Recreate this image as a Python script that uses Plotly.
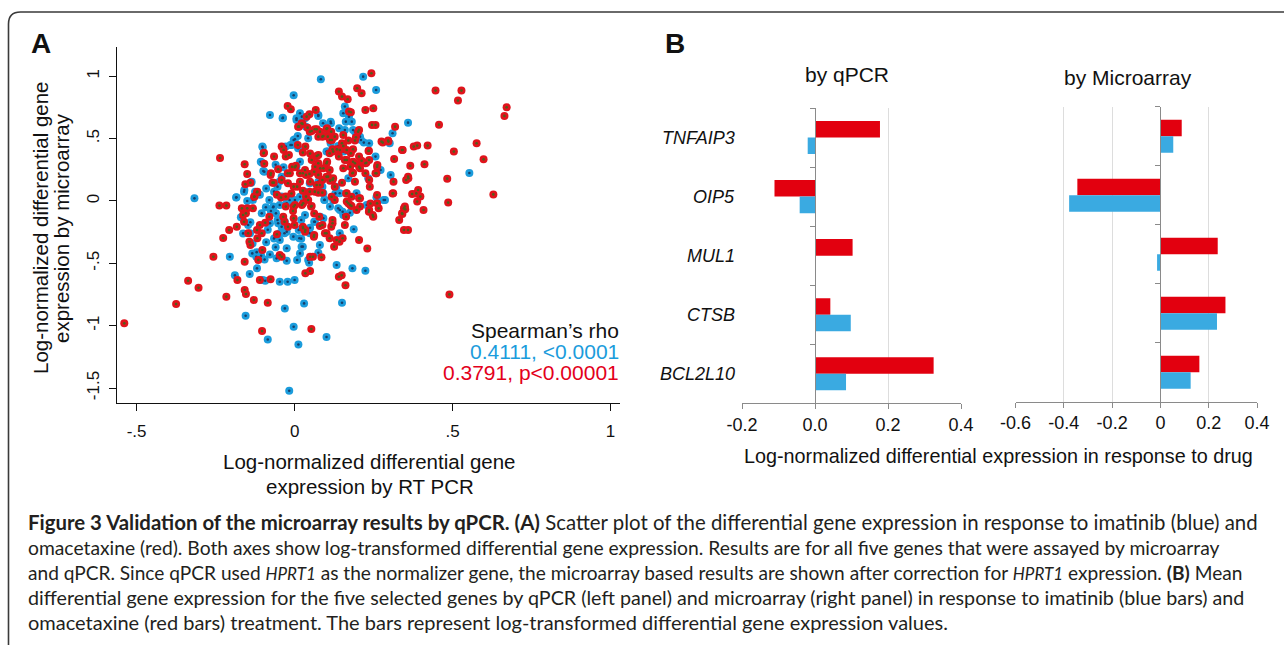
import plotly.graph_objects as go

W, H = 1284, 645

# ---------------- Panel A data (log-normalized differential expression) ----------------
red_x = [0.686, -0.539, -0.375, -0.337, -0.304, -0.257, -0.236, -0.238, -0.216, -0.226,
         -0.207, -0.183, -0.216, -0.181, -0.158, -0.150, -0.156, -0.140, -0.119, -0.127,
         -0.167, -0.150, -0.132, -0.154, -0.160, -0.147, -0.143, -0.140, -0.118, -0.119,
         -0.102, -0.158, -0.158, -0.154, -0.129, -0.085, -0.115, -0.110, -0.076, -0.103,
         -0.098, -0.096, -0.075, -0.070, -0.056, -0.043, -0.065, -0.041, -0.035, -0.022,
         -0.012, -0.028, -0.018, -0.022, -0.021, -0.008, 0.004, 0.017, 0.026, 0.010,
         0.026, 0.034, -0.003, 0.008, 0.026, 0.036, 0.043, -0.003, 0.023, 0.052,
         -0.036, -0.032, -0.003, 0.000, 0.026, 0.034, -0.056, -0.047, -0.041, -0.005,
         0.049, 0.047, 0.062, 0.065, 0.075, 0.041, 0.054, 0.070, 0.014, 0.025,
         0.047, 0.067, 0.075, 0.088, 0.101, 0.101, 0.111, 0.081, 0.070, 0.088,
         0.075, 0.101, 0.075, 0.088, 0.111, 0.120, 0.134, 0.105, 0.118, 0.127,
         0.140, 0.150, 0.168, 0.172, 0.178, 0.150, 0.165, 0.178, 0.140, 0.159,
         0.176, 0.120, 0.127, 0.150, 0.163, 0.165, 0.176, 0.194, 0.204, 0.204,
         0.191, 0.183, 0.204, 0.224, 0.198, 0.212, 0.243, 0.224, 0.249, 0.245,
         0.256, 0.234, 0.224, 0.236, 0.204, 0.207, 0.236, 0.249, 0.266, 0.256,
         0.262, 0.279, 0.297, 0.315, 0.313, 0.318, 0.340, 0.359, 0.353, 0.366,
         0.377, 0.388, 0.421, 0.411, 0.310, 0.372, 0.385, 0.391, 0.398, 0.388,
         0.408, 0.346, 0.340, 0.331, 0.346, 0.359, 0.446, 0.457, 0.504, 0.517,
         0.528, 0.576, 0.598, 0.483, 0.486, 0.629, 0.664, 0.671, 0.490, 0.133,
         0.142, 0.152, 0.163, 0.159, 0.204, 0.230, 0.140, 0.149, 0.161, 0.049,
         0.058, 0.085, 0.053, 0.034, 0.049, 0.116, 0.101, 0.088, 0.111, 0.125,
         0.062, -0.028, -0.010, 0.017, 0.049, -0.041, -0.028, 0.062, -0.080, -0.093,
         -0.021, -0.110, -0.104, -0.163, 0.096, 0.080, 0.078, 0.120, 0.120, 0.196,
         0.235, 0.247, 0.240, 0.341, 0.350, 0.061, 0.033, 0.027, 0.001, 0.027,
         0.054, 0.170, 0.180, 0.048, 0.064, 0.080, 0.103, 0.116, 0.091, 0.112,
         0.154, 0.170, 0.191, 0.201, 0.154, 0.143, 0.122, 0.185, 0.235, 0.275,
         0.296, 0.342, 0.236, 0.227, 0.212, 0.185, 0.165, 0.261, 0.259, 0.207,
         0.185, 0.191, 0.154, 0.103, 0.091, 0.106, 0.122, 0.112, 0.075, 0.054,
         0.033, 0.036, 0.001, -0.015, 0.070, 0.080, 0.048, 0.064, 0.117, 0.127,
         0.165, 0.180, 0.207, 0.238, 0.261, 0.261, 0.312, 0.349, 0.360, 0.022,
         0.011, 0.038, -0.097, -0.052, -0.076, -0.066, 0.001, -0.128, -0.118]
red_y = [1.265, -0.981, -0.826, -0.639, -0.695, -0.447, 0.345, -0.037, -0.037, -0.297,
         -0.233, -0.206, -0.767, -0.634, 0.294, 0.217, 0.134, 0.147, 0.070, 0.035,
         -0.059, -0.059, -0.059, -0.099, -0.166, -0.259, -0.326, -0.353, -0.299, -0.233,
         -0.393, -0.487, -0.714, -0.746, -0.794, -0.816, -0.473, -0.634, -0.628, -1.043,
         0.382, 0.299, 0.222, 0.147, 0.051, 0.027, 0.356, 0.436, 0.409, 0.762,
         0.735, 0.356, 0.369, 0.222, 0.142, 0.275, 0.283, 0.222, 0.222, 0.449,
         0.388, 0.436, 0.115, 0.115, 0.083, 0.035, 0.008, -0.045, -0.032, -0.045,
         -0.126, -0.166, -0.139, -0.193, -0.206, -0.233, -0.267, -0.433, -0.447, -0.080,
         0.155, 0.217, 0.235, 0.275, 0.302, 0.588, 0.561, 0.575, 0.596, 0.618,
         0.695, 0.730, 0.516, 0.516, 0.578, 0.302, 0.249, 0.262, 0.361, 0.168,
         0.209, 0.195, 0.067, 0.067, 0.382, 0.414, 0.414, 0.516, 0.489, 0.516,
         0.877, 0.837, 0.816, 0.717, 0.711, 0.463, 0.409, 0.382, 0.356, 0.329,
         0.275, 0.168, 0.115, 0.147, 0.061, -0.005, -0.032, 0.511, 0.570, 0.356,
         0.302, 0.222, 0.275, 0.302, 0.904, 0.864, 1.024, 0.730, 0.743, 0.610,
         0.610, 0.401, 0.222, 0.168, 0.021, -0.045, -0.072, -0.126, -0.059, 0.222,
         0.289, 0.468, 0.476, 0.337, 0.155, 0.596, 0.409, 0.195, 0.168, 0.283,
         0.436, 0.444, 0.444, 0.294, 0.061, 0.056, 0.061, 0.088, 0.035, -0.005,
         -0.072, -0.059, -0.099, -0.152, -0.233, -0.233, 0.885, 0.612, 0.396, 0.805,
         0.885, 0.463, 0.334, 0.179, -0.013, 0.053, 0.682, 0.751, -0.749, -0.313,
         -0.326, -0.299, -0.126, -0.193, -0.313, -0.380, -0.607, -0.596, -0.676, -0.447,
         -0.447, -0.452, -1.027, -0.580, -0.561, -0.206, -0.259, -0.193, -0.299, -0.366,
         -0.273, -0.045, 0.060, 0.155, 0.380, 0.168, 0.035, -0.100, -0.126, -0.174,
         -0.206, -0.193, -0.259, -0.112, -0.259, -0.200, -0.126, -0.179, -0.152, -0.072,
         -0.086, -0.112, -0.020, -0.104, -0.067, -0.286, -0.246, -0.219, -0.032, -0.019,
         -0.040, -0.019, -0.040, 0.556, 0.575, 0.556, 0.583, 0.556, 0.521, 0.489,
         0.529, 0.484, 0.484, 0.556, 0.441, 0.409, 0.396, 0.415, 0.403, 0.476,
         0.484, 0.409, 0.329, 0.307, 0.323, 0.315, 0.329, 0.275, 0.222, 0.262,
         0.227, 0.155, 0.262, 0.315, 0.262, 0.195, 0.182, 0.163, 0.369, 0.329,
         0.249, 0.209, 0.275, 0.222, 0.128, 0.128, 0.075, 0.075, 0.034, 0.008,
         0.062, 0.034, 0.021, 0.115, 0.048, -0.019, 0.062, -0.045, 0.182, 0.623,
         0.596, 0.676, 0.387, 0.254, 0.208, 0.147, 0.270, 0.034, 0.075]

blue_x = [-0.317, -0.205, -0.189, -0.185, -0.155, -0.142, -0.160, -0.137, -0.132, -0.125,
          -0.141, -0.134, -0.121, -0.106, -0.119, -0.093, -0.078, -0.102, -0.103, -0.096,
          -0.085, -0.078, -0.080, -0.067, -0.059, -0.054, -0.041, -0.032, -0.065, -0.054,
          -0.041, -0.048, -0.041, -0.037, -0.047, -0.031, -0.022, 0.000, -0.017, -0.003,
          -0.003, 0.012, -0.028, -0.013, -0.003, 0.010, 0.023, 0.036, 0.030, -0.003,
          -0.016, 0.008, 0.030, 0.062, 0.049, 0.081, 0.013, 0.021, 0.026, 0.017,
          0.043, 0.083, 0.075, 0.090, 0.114, 0.105, 0.114, 0.132, 0.129, 0.094,
          0.101, 0.143, 0.138, 0.152, 0.133, 0.150, 0.183, 0.187, 0.159, 0.172,
          0.181, 0.191, 0.207, 0.217, 0.258, 0.236, 0.256, 0.224, 0.282, 0.304,
          0.310, 0.301, 0.359, 0.553, 0.088, 0.075, -0.101, -0.025, -0.057, -0.133,
          -0.120, -0.163, -0.147, -0.091, -0.068, -0.047, -0.025, -0.104, -0.078, -0.052,
          -0.031, -0.047, -0.025, -0.004, -0.047, -0.025, 0.080, 0.075, 0.046, 0.022,
          0.015, 0.048, 0.064, 0.091, 0.021, 0.033, 0.143, 0.154, 0.175, 0.154,
          0.162, 0.017, 0.033, 0.006, 0.075, 0.115, 0.141, 0.159, 0.185, 0.196,
          0.210, 0.219, 0.001, 0.043, 0.101, 0.138, 0.156, 0.101, 0.064, -0.009,
          0.011, 0.017, 0.006, 0.272, 0.233, 0.259, 0.170, 0.143, 0.122, 0.091,
          0.095, 0.048, 0.033, 0.017, 0.001, 0.112, 0.286, 0.196, 0.228, -0.038,
          0.006, -0.101, -0.107, -0.099, -0.159, -0.184, -0.136, -0.090, -0.110, -0.075,
          -0.150, -0.170, -0.140, -0.085, -0.065, -0.090, -0.060, -0.095, -0.035, -0.060]
blue_y = [0.021, -0.447, -0.596, 0.027, -0.920, -0.586, 0.075, 0.147, 0.008, 0.075,
          -0.259, -0.420, -0.447, -0.439, -0.540, -0.639, -0.430, 0.436, 0.307, 0.235,
          -1.110, 0.690, 0.008, -0.045, -0.099, -0.152, -0.206, -0.259, 0.075, 0.115,
          0.035, 0.155, 0.195, 0.668, -0.647, -0.861, -0.647, -0.634, -1.521, 0.848,
          -1.008, -1.150, 0.436, 0.449, 0.489, 0.521, 0.676, 0.596, 0.008, -0.019,
          0.008, -0.473, -0.821, -0.166, -0.214, -0.126, -0.233, -0.302, -0.366, -0.420,
          -0.473, 0.976, 0.682, 0.623, 0.636, 0.396, 0.463, 0.115, 0.061, 0.008,
          -1.091, -0.259, -0.059, -0.086, -0.513, -0.816, -0.540, -0.227, 0.757, 0.676,
          0.636, 0.556, 0.516, 0.997, 0.890, 0.463, 0.356, -0.559, 0.008, 0.209,
          0.543, 0.463, 0.628, 0.225, 0.115, 0.155, -0.634, -0.479, -0.460, -0.340,
          -0.410, -0.260, -0.193, -0.050, -0.050, -0.032, -0.019, -0.099, -0.179, -0.179,
          -0.166, -0.259, -0.246, -0.286, -0.313, -0.379, -0.353, -0.415, -0.495, -0.366,
          -0.299, -0.259, -0.166, -0.139, -0.152, -0.112, -0.072, -0.112, -0.094, 0.703,
          0.636, 0.703, 0.663, 0.650, 0.690, 0.623, 0.583, 0.569, 0.569, 0.529,
          0.489, 0.468, 0.495, 0.503, 0.529, 0.441, 0.396, 0.396, 0.355, 0.449,
          0.423, 0.315, 0.275, 0.249, 0.182, 0.030, 0.182, 0.062, 0.008, 0.062,
          0.010, 0.142, 0.075, 0.034, 0.008, -0.045, 0.008, 0.062, -0.032, 0.663,
          0.663, 0.430, 0.315, 0.240, 0.088, 0.030, 0.155, 0.100, 0.050, -0.080,
          0.000, -0.130, -0.170, -0.230, -0.300, -0.330, -0.370, -0.470, 0.270, 0.290]

x_ticks_a = [-0.5, 0, 0.5, 1]
x_ticktext_a = ["-.5", "0", ".5", "1"]
y_ticks_a = [-1.5, -1, -0.5, 0, 0.5, 1]
y_ticktext_a = ["-1.5", "-1", "-.5", "0", ".5", "1"]

# ---------------- Panel B data ----------------
genes = ["TNFAIP3", "OIP5", "MUL1", "CTSB", "BCL2L10"]
qpcr_omacetaxine = [0.178, -0.111, 0.103, 0.042, 0.325]
qpcr_imatinib = [-0.020, -0.042, 0.002, 0.098, 0.085]
array_omacetaxine = [0.088, -0.344, 0.237, 0.269, 0.161]
array_imatinib = [0.053, -0.378, -0.014, 0.234, 0.125]

qpcr_ticks = [-0.2, 0.0, 0.2, 0.4]
qpcr_ticktext = ["-0.2", "0.0", "0.2", "0.4"]
array_ticks = [-0.6, -0.4, -0.2, 0, 0.2, 0.4]
array_ticktext = ["-0.6", "-0.4", "-0.2", "0", "0.2", "0.4"]

# ---------------- styling ----------------
FONT = "Liberation Sans, Arial, Helvetica, sans-serif"
CAPFONT = "Lato, Liberation Sans, Arial, sans-serif"
RED_PT, BLUE_PT = "#e0141c", "#1b9cdc"
RED_DOT, BLUE_DOT = "#4f5f1c", "#163f6b"
RED_BAR, BLUE_BAR = "#e2000f", "#3aaae1"
GRID = "#dddddd"
AXGRAY = "#8a8a8a"


def px_x(p):
    return p / W


def px_y(p):
    return 1 - p / H


fig = go.Figure()

# scatter: blue then red, each a coloured disc with a dark centre
for xs, ys, col, dot in [(blue_x, blue_y, BLUE_PT, BLUE_DOT), (red_x, red_y, RED_PT, RED_DOT)]:
    fig.add_trace(go.Scatter(x=xs, y=ys, mode="markers", xaxis="x", yaxis="y", cliponaxis=False,
                             marker=dict(size=8, color=col, line=dict(width=0)), hoverinfo="skip"))
    fig.add_trace(go.Scatter(x=xs, y=ys, mode="markers", xaxis="x", yaxis="y", cliponaxis=False,
                             marker=dict(size=2.6, color=dot, line=dict(width=0)), hoverinfo="skip"))

# bars: qPCR
fig.add_trace(go.Bar(x=qpcr_omacetaxine, y=genes, orientation="h", xaxis="x2", yaxis="y2",
                     marker=dict(color=RED_BAR, line=dict(width=0))))
fig.add_trace(go.Bar(x=qpcr_imatinib, y=genes, orientation="h", xaxis="x2", yaxis="y2",
                     marker=dict(color=BLUE_BAR, line=dict(width=0))))
# bars: microarray
fig.add_trace(go.Bar(x=array_omacetaxine, y=genes, orientation="h", xaxis="x3", yaxis="y3",
                     marker=dict(color=RED_BAR, line=dict(width=0))))
fig.add_trace(go.Bar(x=array_imatinib, y=genes, orientation="h", xaxis="x3", yaxis="y3",
                     marker=dict(color=BLUE_BAR, line=dict(width=0))))

tickfont = dict(family=FONT, size=17, color="#111111")
tickfont_b = dict(family=FONT, size=18, color="#111111")

layout = dict(
    width=W, height=H,
    margin=dict(l=0, r=0, t=0, b=0),
    paper_bgcolor="white", plot_bgcolor="white",
    showlegend=False, template="none",
    barmode="group", bargap=0.44, bargroupgap=0,
    font=dict(family=FONT, color="#111111"),
    # panel A
    xaxis=dict(domain=[px_x(116.7), px_x(620.4)], range=[-0.563, 1.031], anchor="y",
               tickvals=x_ticks_a, ticktext=x_ticktext_a, ticks="outside", ticklen=7,
               tickcolor="#111111", tickwidth=1.2, showline=True, linecolor="#111111",
               linewidth=1.3, showgrid=False, zeroline=False, tickfont=tickfont,
               ticklabelstandoff=5),
    yaxis=dict(domain=[px_y(403.3), px_y(46.7)], range=[-1.622, 1.237], anchor="x",
               tickvals=y_ticks_a, ticktext=y_ticktext_a, ticks="outside", ticklen=7,
               tickcolor="#111111", tickwidth=1.2, showline=True, linecolor="#111111",
               linewidth=1.3, showgrid=False, zeroline=False, tickfont=tickfont,
               tickangle=-90, ticklabelstandoff=3),
    # panel B left
    xaxis2=dict(domain=[px_x(742), px_x(961)], range=[-0.2, 0.4], anchor="y2",
                tickvals=qpcr_ticks, ticktext=qpcr_ticktext, ticks="outside", ticklen=5,
                tickcolor=AXGRAY, showline=True, linecolor=AXGRAY, linewidth=1.3,
                showgrid=True, gridcolor=GRID, gridwidth=1, zeroline=False,
                tickfont=tickfont_b, ticklabelstandoff=0),
    yaxis2=dict(domain=[px_y(403.3), px_y(108)], type="category", categoryarray=genes,
                categoryorder="array", autorange="reversed", anchor="free",
                position=px_x(814.7), showline=True, linecolor=AXGRAY, linewidth=1.3,
                ticks="outside", tickson="boundaries", ticklen=5, tickcolor=AXGRAY,
                showticklabels=False, showgrid=False, zeroline=False),
    # panel B right
    xaxis3=dict(domain=[px_x(1015.5), px_x(1257.1)], range=[-0.6, 0.4], anchor="y3",
                tickvals=array_ticks, ticktext=array_ticktext, ticks="outside", ticklen=5,
                tickcolor=AXGRAY, showline=True, linecolor=AXGRAY, linewidth=1.3,
                showgrid=True, gridcolor=GRID, gridwidth=1, zeroline=False,
                tickfont=tickfont_b, ticklabelstandoff=0),
    yaxis3=dict(domain=[px_y(401.7), px_y(106.7)], type="category", categoryarray=genes,
                categoryorder="array", autorange="reversed", anchor="free",
                position=px_x(1160.4), showline=True, linecolor=AXGRAY, linewidth=1.3,
                ticks="outside", tickson="boundaries", ticklen=5, tickcolor=AXGRAY,
                showticklabels=False, showgrid=False, zeroline=False),
)
fig.update_layout(**layout)

ann = []


def add_text(text, x, y, size, color="#111111", xanchor="center", yanchor="middle",
             angle=0, xref="paper", yref="paper", family=FONT):
    ann.append(dict(text=text, x=x, y=y, xref=xref, yref=yref, showarrow=False,
                    xanchor=xanchor, yanchor=yanchor, textangle=angle,
                    font=dict(family=family, size=size, color=color)))


# panel letters
add_text("<b>A</b>", px_x(29), px_y(44), 28, xanchor="left")
add_text("<b>B</b>", px_x(663), px_y(44), 28, xanchor="left")

# panel A axis titles
add_text("Log-normalized differential gene", px_x(370), px_y(461), 20.5)
add_text("expression by RT PCR", px_x(370), px_y(486), 20.5)
add_text("Log-normalized differential gene", px_x(40), px_y(228), 20.5, angle=-90)
add_text("expression by microarray", px_x(61), px_y(228), 20.5, angle=-90)

# Spearman's rho legend
add_text("Spearman\u2019s rho", px_x(621), px_y(330), 21, xanchor="right")
add_text("0.4111, <0.0001", px_x(621), px_y(351.5), 21, color=BLUE_PT, xanchor="right")
add_text("0.3791, p<0.00001", px_x(621), px_y(372.5), 21, color="#e3001b", xanchor="right")

# panel B titles
add_text("by qPCR", px_x(847), px_y(75), 21)
add_text("by Microarray", px_x(1128), px_y(77), 21)
add_text("Log-normalized differential expression in response to drug", px_x(998), px_y(456), 19.8)

# gene labels
for g in genes:
    add_text("<i>" + g + "</i>", px_x(737), g, 18, xanchor="right", yref="y2")

# caption
hp = '<span style="font-size:17px"><i>HPRT1</i></span>'
cap_lines = [
    "<b>Figure 3 Validation of the microarray results by qPCR. (A)</b> Scatter plot of the differential gene expression in response to imatinib (blue) and",
    "omacetaxine (red). Both axes show log-transformed differential gene expression. Results are for all five genes that were assayed by microarray",
    "and qPCR. Since qPCR used " + hp + " as the normalizer gene, the microarray based results are shown after correction for " + hp + " expression. <b>(B)</b> Mean",
    "differential gene expression for the five selected genes by qPCR (left panel) and microarray (right panel) in response to imatinib (blue bars) and",
    "omacetaxine (red bars) treatment. The bars represent log-transformed differential gene expression values.",
]
cap_y = [522, 547, 572.5, 597.5, 622]
cap_size = [20.4, 19.3, 19.1, 19.7, 20]
for line, yy, sz in zip(cap_lines, cap_y, cap_size):
    add_text(line, px_x(26), px_y(yy), sz, color="#231f20", xanchor="left", family=CAPFONT)

fig.update_layout(annotations=ann)

# figure frame (rounded top-left corner)
x0, yt, r = 8.5, 12, 12
path = "M {a},{b} L {a},{c} Q {a},{d} {e},{d} L {f},{d}".format(
    a=px_x(x0), b=px_y(H + 10), c=px_y(yt + r), d=px_y(yt), e=px_x(x0 + r), f=px_x(W + 10))
fig.add_shape(type="path", path=path, xref="paper", yref="paper",
              line=dict(color="#3a3a3a", width=1.6), layer="above")

fig.write_html("out.html", config={"displayModeBar": False},
               post_script="document.body.style.margin='0px';document.body.style.overflow='hidden';")
